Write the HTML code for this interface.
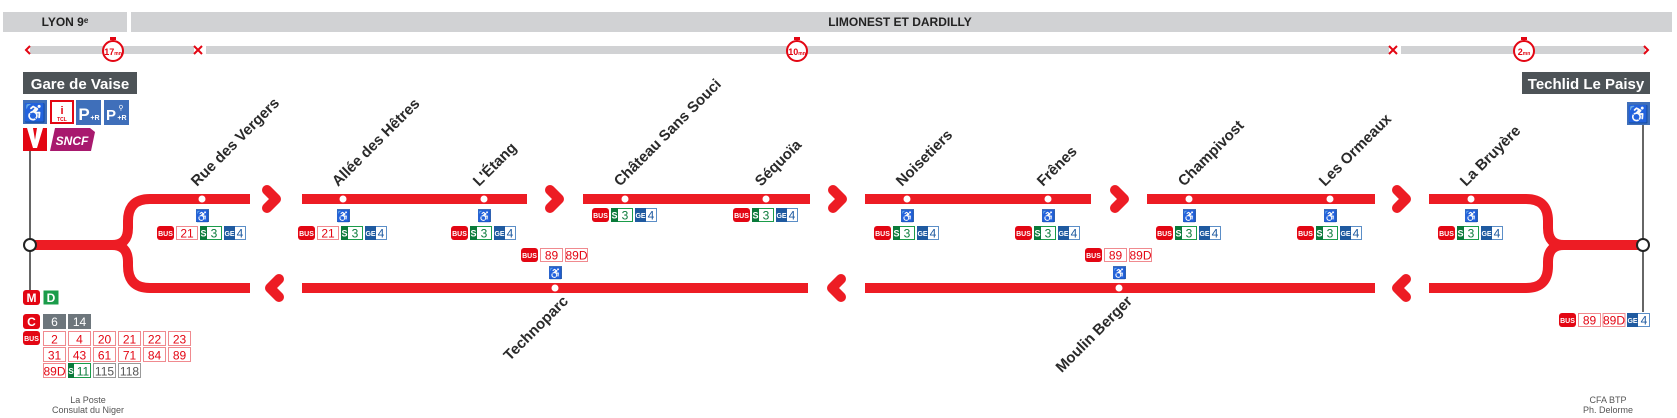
<!DOCTYPE html>
<html><head><meta charset="utf-8"><style>
html,body{margin:0;padding:0;background:#fff;}
svg{display:block;font-family:"Liberation Sans",sans-serif;}
.lbl{font-size:15px;font-weight:bold;fill:#2a2a2a;}
.rt{font-size:12px;fill:#e30613;text-anchor:middle;}
.bt{font-size:7px;fill:#fff;font-weight:bold;text-anchor:middle;}
</style></head><body>
<svg width="1677" height="418" viewBox="0 0 1677 418" xmlns="http://www.w3.org/2000/svg">
<rect x="3" y="12" width="124" height="20" fill="#d1d2d4"/>
<text x="65" y="26" font-size="12" font-weight="bold" fill="#222" text-anchor="middle">LYON 9ᵉ</text>
<rect x="131" y="12" width="1541" height="20" fill="#d1d2d4"/>
<text x="900" y="26" font-size="12" font-weight="bold" fill="#222" text-anchor="middle">LIMONEST ET DARDILLY</text>
<g fill="#d1d2d4"><rect x="30" y="46" width="164" height="8"/><rect x="206" y="46" width="1183" height="8"/><rect x="1401" y="46" width="244" height="8"/></g>
<g stroke="#e30613" stroke-width="2" fill="none">
<polyline points="30,46 26,50 30,54"/>
<path d="M194,46 L202,54 M202,46 L194,54"/>
<path d="M1389,46 L1397,54 M1397,46 L1389,54"/>
<polyline points="1644,46 1648,50 1644,54"/>
</g>
<g>
<circle cx="113" cy="51" r="10" fill="#fff" stroke="#e30613" stroke-width="2"/><rect x="110" y="37" width="6" height="3" fill="#e30613"/>
<text x="113" y="55" font-size="9" fill="#e30613" text-anchor="middle" font-weight="bold">17<tspan font-size="5">mn</tspan></text>
<circle cx="797" cy="51" r="10" fill="#fff" stroke="#e30613" stroke-width="2"/><rect x="794" y="37" width="6" height="3" fill="#e30613"/>
<text x="797" y="55" font-size="9" fill="#e30613" text-anchor="middle" font-weight="bold">10<tspan font-size="5">mn</tspan></text>
<circle cx="1524" cy="51" r="10" fill="#fff" stroke="#e30613" stroke-width="2"/><rect x="1521" y="37" width="6" height="3" fill="#e30613"/>
<text x="1524" y="55" font-size="9" fill="#e30613" text-anchor="middle" font-weight="bold">2<tspan font-size="5">mn</tspan></text>
</g>
<rect x="23" y="72" width="114" height="22" fill="#4d5357"/>
<text x="80" y="89" font-size="15" font-weight="bold" fill="#fff" text-anchor="middle">Gare de Vaise</text>
<rect x="1522" y="72" width="128" height="22" fill="#4d5357"/>
<text x="1586" y="89" font-size="15" font-weight="bold" fill="#fff" text-anchor="middle">Techlid Le Paisy</text>
<rect x="23" y="100" width="24" height="24" fill="#3f6fba"/><text x="35" y="119" font-size="18" fill="#fff" text-anchor="middle">♿</text>
<rect x="51" y="101" width="22" height="22" fill="#fff" stroke="#e30613" stroke-width="2"/><text x="62" y="114" font-size="11" fill="#e30613" font-weight="bold" text-anchor="middle">i</text><text x="62" y="121" font-size="5" fill="#e30613" font-weight="bold" text-anchor="middle">TCL</text>
<rect x="76" y="100" width="25" height="25" fill="#3f6fba"/><text x="84" y="120" font-size="17" fill="#fff" font-weight="bold" text-anchor="middle">P</text><text x="95" y="120" font-size="7" fill="#fff" font-weight="bold" text-anchor="middle">+R</text>
<rect x="104" y="100" width="25" height="25" fill="#3f6fba"/><text x="111" y="120" font-size="15" fill="#fff" font-weight="bold" text-anchor="middle">P</text><text x="122" y="120" font-size="7" fill="#fff" font-weight="bold" text-anchor="middle">+R</text><text x="121" y="110" font-size="7" fill="#fff" text-anchor="middle">⚲</text>
<rect x="23" y="128" width="24" height="23" fill="#e30613"/><polygon points="27,128 33,128 35,140 37,128 43,128 37,148 33,148" fill="#fff"/>
<polygon points="55,128 90,128 95,132 91,151 50,151" fill="#a8196e"/><text x="72" y="145" font-size="12" font-style="italic" font-weight="bold" fill="#fff" text-anchor="middle">SNCF</text>
<rect x="1627" y="102" width="23" height="23" fill="#3f6fba"/><text x="1638.5" y="120" font-size="17" fill="#fff" text-anchor="middle">♿</text>
<line x1="30" y1="151" x2="30" y2="290" stroke="#666" stroke-width="2"/>
<line x1="1643" y1="125" x2="1643" y2="312" stroke="#666" stroke-width="2"/>
<g stroke="#ed1c24" stroke-width="10" fill="none" stroke-linejoin="round">
<path d="M250,199 H150 Q128,199 128,221 V228 Q128,245 112,245 H30"/>
<path d="M250,288 H150 Q128,288 128,266 V262 Q128,245 112,245"/>
<path d="M302,199 H527 M583,199 H810 M865,199 H1091 M1147,199 H1375"/>
<path d="M302,288 H808 M865,288 H1375"/>
<path d="M1429,199 H1526 Q1548,199 1548,221 V228 Q1548,245 1564,245 H1643"/>
<path d="M1429,288 H1526 Q1548,288 1548,266 V262 Q1548,245 1564,245"/>
</g>
<g stroke="#ed1c24" stroke-width="10" fill="none" stroke-linecap="round" stroke-linejoin="round">
<polyline points="267,190 276,199 267,208"/><polyline points="550,190 559,199 550,208"/><polyline points="833,190 842,199 833,208"/><polyline points="1115,190 1124,199 1115,208"/><polyline points="1397,190 1406,199 1397,208"/>
<polyline points="279,279 270,288 279,297"/><polyline points="841,279 832,288 841,297"/><polyline points="1406,279 1397,288 1406,297"/>
</g>
<circle cx="30" cy="245" r="6" fill="#fff" stroke="#222" stroke-width="2"/>
<circle cx="1643" cy="245" r="6" fill="#fff" stroke="#222" stroke-width="2"/>
<g fill="#fff">
<circle cx="202" cy="199" r="3.5"/><circle cx="343" cy="199" r="3.5"/><circle cx="484" cy="199" r="3.5"/><circle cx="625" cy="199" r="3.5"/><circle cx="766" cy="199" r="3.5"/><circle cx="907" cy="199" r="3.5"/><circle cx="1048" cy="199" r="3.5"/><circle cx="1189" cy="199" r="3.5"/><circle cx="1330" cy="199" r="3.5"/><circle cx="1471" cy="199" r="3.5"/>
<circle cx="555" cy="288" r="3.5"/><circle cx="1119" cy="288" r="3.5"/>
</g>
<g class="lbl">
<text transform="translate(197,187) rotate(-45)">Rue des Vergers</text>
<text transform="translate(338,187) rotate(-45)">Allée des Hêtres</text>
<text transform="translate(479,187) rotate(-45)">L'Étang</text>
<text transform="translate(620,187) rotate(-45)">Château Sans Souci</text>
<text transform="translate(761,187) rotate(-45)">Séquoïa</text>
<text transform="translate(902,187) rotate(-45)">Noisetiers</text>
<text transform="translate(1043,187) rotate(-45)">Frênes</text>
<text transform="translate(1184,187) rotate(-45)">Champivost</text>
<text transform="translate(1325,187) rotate(-45)">Les Ormeaux</text>
<text transform="translate(1466,187) rotate(-45)">La Bruyère</text>
<text transform="translate(569,302) rotate(-45)" text-anchor="end">Technoparc</text>
<text transform="translate(1133,302) rotate(-45)" text-anchor="end">Moulin Berger</text>
</g>
<g>
<rect x="196" y="209" width="13" height="13" fill="#3f6fba"/><text x="202.5" y="220" font-size="11" fill="#fff" text-anchor="middle">♿</text>
<rect x="337" y="209" width="13" height="13" fill="#3f6fba"/><text x="343.5" y="220" font-size="11" fill="#fff" text-anchor="middle">♿</text>
<rect x="478" y="209" width="13" height="13" fill="#3f6fba"/><text x="484.5" y="220" font-size="11" fill="#fff" text-anchor="middle">♿</text>
<rect x="901" y="209" width="13" height="13" fill="#3f6fba"/><text x="907.5" y="220" font-size="11" fill="#fff" text-anchor="middle">♿</text>
<rect x="1042" y="209" width="13" height="13" fill="#3f6fba"/><text x="1048.5" y="220" font-size="11" fill="#fff" text-anchor="middle">♿</text>
<rect x="1183" y="209" width="13" height="13" fill="#3f6fba"/><text x="1189.5" y="220" font-size="11" fill="#fff" text-anchor="middle">♿</text>
<rect x="1324" y="209" width="13" height="13" fill="#3f6fba"/><text x="1330.5" y="220" font-size="11" fill="#fff" text-anchor="middle">♿</text>
<rect x="1465" y="209" width="13" height="13" fill="#3f6fba"/><text x="1471.5" y="220" font-size="11" fill="#fff" text-anchor="middle">♿</text>
<rect x="549" y="266" width="13" height="13" fill="#3f6fba"/><text x="555.5" y="277" font-size="11" fill="#fff" text-anchor="middle">♿</text>
<rect x="1113" y="266" width="13" height="13" fill="#3f6fba"/><text x="1119.5" y="277" font-size="11" fill="#fff" text-anchor="middle">♿</text>
</g>
<g transform="translate(157,226)">
<rect width="17" height="14" rx="3" fill="#e30613"/><text x="8.5" y="10" class="bt">BUS</text>
<rect x="19.5" y="0.5" width="21" height="13" fill="#fff" stroke="#f08a8f"/><text x="30" y="11.5" class="rt">21</text>
<rect x="43.5" y="0.5" width="21" height="13" fill="#fff" stroke="#1a9c4a"/><rect x="43" y="0" width="7" height="14" fill="#0a7a3a"/><text x="46.5" y="10.5" font-size="9" fill="#fff" text-anchor="middle" font-weight="bold">S</text><text x="57" y="11.5" font-size="12" fill="#0a7a3a" text-anchor="middle">3</text>
<rect x="67.5" y="0.5" width="21" height="13" fill="#fff" stroke="#5b8ec7"/><rect x="67" y="0" width="11" height="14" fill="#1f5aa0"/><text x="72.5" y="10" font-size="7" fill="#fff" text-anchor="middle" font-weight="bold">GE</text><text x="83" y="11.5" font-size="12" fill="#1f5aa0" text-anchor="middle">4</text>
</g>
<g transform="translate(298,226)">
<rect width="17" height="14" rx="3" fill="#e30613"/><text x="8.5" y="10" class="bt">BUS</text>
<rect x="19.5" y="0.5" width="21" height="13" fill="#fff" stroke="#f08a8f"/><text x="30" y="11.5" class="rt">21</text>
<rect x="43.5" y="0.5" width="21" height="13" fill="#fff" stroke="#1a9c4a"/><rect x="43" y="0" width="7" height="14" fill="#0a7a3a"/><text x="46.5" y="10.5" font-size="9" fill="#fff" text-anchor="middle" font-weight="bold">S</text><text x="57" y="11.5" font-size="12" fill="#0a7a3a" text-anchor="middle">3</text>
<rect x="67.5" y="0.5" width="21" height="13" fill="#fff" stroke="#5b8ec7"/><rect x="67" y="0" width="11" height="14" fill="#1f5aa0"/><text x="72.5" y="10" font-size="7" fill="#fff" text-anchor="middle" font-weight="bold">GE</text><text x="83" y="11.5" font-size="12" fill="#1f5aa0" text-anchor="middle">4</text>
</g>
<g transform="translate(451,226)">
<rect width="17" height="14" rx="3" fill="#e30613"/><text x="8.5" y="10" class="bt">BUS</text>
<rect x="19.5" y="0.5" width="21" height="13" fill="#fff" stroke="#1a9c4a"/><rect x="19" y="0" width="7" height="14" fill="#0a7a3a"/><text x="22.5" y="10.5" font-size="9" fill="#fff" text-anchor="middle" font-weight="bold">S</text><text x="33" y="11.5" font-size="12" fill="#0a7a3a" text-anchor="middle">3</text>
<rect x="43.5" y="0.5" width="21" height="13" fill="#fff" stroke="#5b8ec7"/><rect x="43" y="0" width="11" height="14" fill="#1f5aa0"/><text x="48.5" y="10" font-size="7" fill="#fff" text-anchor="middle" font-weight="bold">GE</text><text x="59" y="11.5" font-size="12" fill="#1f5aa0" text-anchor="middle">4</text>
</g>
<g transform="translate(592,208)">
<rect width="17" height="14" rx="3" fill="#e30613"/><text x="8.5" y="10" class="bt">BUS</text>
<rect x="19.5" y="0.5" width="21" height="13" fill="#fff" stroke="#1a9c4a"/><rect x="19" y="0" width="7" height="14" fill="#0a7a3a"/><text x="22.5" y="10.5" font-size="9" fill="#fff" text-anchor="middle" font-weight="bold">S</text><text x="33" y="11.5" font-size="12" fill="#0a7a3a" text-anchor="middle">3</text>
<rect x="43.5" y="0.5" width="21" height="13" fill="#fff" stroke="#5b8ec7"/><rect x="43" y="0" width="11" height="14" fill="#1f5aa0"/><text x="48.5" y="10" font-size="7" fill="#fff" text-anchor="middle" font-weight="bold">GE</text><text x="59" y="11.5" font-size="12" fill="#1f5aa0" text-anchor="middle">4</text>
</g>
<g transform="translate(733,208)">
<rect width="17" height="14" rx="3" fill="#e30613"/><text x="8.5" y="10" class="bt">BUS</text>
<rect x="19.5" y="0.5" width="21" height="13" fill="#fff" stroke="#1a9c4a"/><rect x="19" y="0" width="7" height="14" fill="#0a7a3a"/><text x="22.5" y="10.5" font-size="9" fill="#fff" text-anchor="middle" font-weight="bold">S</text><text x="33" y="11.5" font-size="12" fill="#0a7a3a" text-anchor="middle">3</text>
<rect x="43.5" y="0.5" width="21" height="13" fill="#fff" stroke="#5b8ec7"/><rect x="43" y="0" width="11" height="14" fill="#1f5aa0"/><text x="48.5" y="10" font-size="7" fill="#fff" text-anchor="middle" font-weight="bold">GE</text><text x="59" y="11.5" font-size="12" fill="#1f5aa0" text-anchor="middle">4</text>
</g>
<g transform="translate(874,226)">
<rect width="17" height="14" rx="3" fill="#e30613"/><text x="8.5" y="10" class="bt">BUS</text>
<rect x="19.5" y="0.5" width="21" height="13" fill="#fff" stroke="#1a9c4a"/><rect x="19" y="0" width="7" height="14" fill="#0a7a3a"/><text x="22.5" y="10.5" font-size="9" fill="#fff" text-anchor="middle" font-weight="bold">S</text><text x="33" y="11.5" font-size="12" fill="#0a7a3a" text-anchor="middle">3</text>
<rect x="43.5" y="0.5" width="21" height="13" fill="#fff" stroke="#5b8ec7"/><rect x="43" y="0" width="11" height="14" fill="#1f5aa0"/><text x="48.5" y="10" font-size="7" fill="#fff" text-anchor="middle" font-weight="bold">GE</text><text x="59" y="11.5" font-size="12" fill="#1f5aa0" text-anchor="middle">4</text>
</g>
<g transform="translate(1015,226)">
<rect width="17" height="14" rx="3" fill="#e30613"/><text x="8.5" y="10" class="bt">BUS</text>
<rect x="19.5" y="0.5" width="21" height="13" fill="#fff" stroke="#1a9c4a"/><rect x="19" y="0" width="7" height="14" fill="#0a7a3a"/><text x="22.5" y="10.5" font-size="9" fill="#fff" text-anchor="middle" font-weight="bold">S</text><text x="33" y="11.5" font-size="12" fill="#0a7a3a" text-anchor="middle">3</text>
<rect x="43.5" y="0.5" width="21" height="13" fill="#fff" stroke="#5b8ec7"/><rect x="43" y="0" width="11" height="14" fill="#1f5aa0"/><text x="48.5" y="10" font-size="7" fill="#fff" text-anchor="middle" font-weight="bold">GE</text><text x="59" y="11.5" font-size="12" fill="#1f5aa0" text-anchor="middle">4</text>
</g>
<g transform="translate(1156,226)">
<rect width="17" height="14" rx="3" fill="#e30613"/><text x="8.5" y="10" class="bt">BUS</text>
<rect x="19.5" y="0.5" width="21" height="13" fill="#fff" stroke="#1a9c4a"/><rect x="19" y="0" width="7" height="14" fill="#0a7a3a"/><text x="22.5" y="10.5" font-size="9" fill="#fff" text-anchor="middle" font-weight="bold">S</text><text x="33" y="11.5" font-size="12" fill="#0a7a3a" text-anchor="middle">3</text>
<rect x="43.5" y="0.5" width="21" height="13" fill="#fff" stroke="#5b8ec7"/><rect x="43" y="0" width="11" height="14" fill="#1f5aa0"/><text x="48.5" y="10" font-size="7" fill="#fff" text-anchor="middle" font-weight="bold">GE</text><text x="59" y="11.5" font-size="12" fill="#1f5aa0" text-anchor="middle">4</text>
</g>
<g transform="translate(1297,226)">
<rect width="17" height="14" rx="3" fill="#e30613"/><text x="8.5" y="10" class="bt">BUS</text>
<rect x="19.5" y="0.5" width="21" height="13" fill="#fff" stroke="#1a9c4a"/><rect x="19" y="0" width="7" height="14" fill="#0a7a3a"/><text x="22.5" y="10.5" font-size="9" fill="#fff" text-anchor="middle" font-weight="bold">S</text><text x="33" y="11.5" font-size="12" fill="#0a7a3a" text-anchor="middle">3</text>
<rect x="43.5" y="0.5" width="21" height="13" fill="#fff" stroke="#5b8ec7"/><rect x="43" y="0" width="11" height="14" fill="#1f5aa0"/><text x="48.5" y="10" font-size="7" fill="#fff" text-anchor="middle" font-weight="bold">GE</text><text x="59" y="11.5" font-size="12" fill="#1f5aa0" text-anchor="middle">4</text>
</g>
<g transform="translate(1438,226)">
<rect width="17" height="14" rx="3" fill="#e30613"/><text x="8.5" y="10" class="bt">BUS</text>
<rect x="19.5" y="0.5" width="21" height="13" fill="#fff" stroke="#1a9c4a"/><rect x="19" y="0" width="7" height="14" fill="#0a7a3a"/><text x="22.5" y="10.5" font-size="9" fill="#fff" text-anchor="middle" font-weight="bold">S</text><text x="33" y="11.5" font-size="12" fill="#0a7a3a" text-anchor="middle">3</text>
<rect x="43.5" y="0.5" width="21" height="13" fill="#fff" stroke="#5b8ec7"/><rect x="43" y="0" width="11" height="14" fill="#1f5aa0"/><text x="48.5" y="10" font-size="7" fill="#fff" text-anchor="middle" font-weight="bold">GE</text><text x="59" y="11.5" font-size="12" fill="#1f5aa0" text-anchor="middle">4</text>
</g>
<g transform="translate(521,248)">
<rect width="17" height="14" rx="3" fill="#e30613"/><text x="8.5" y="10" class="bt">BUS</text>
<rect x="19.5" y="0.5" width="22" height="13" fill="#fff" stroke="#f08a8f"/><text x="30.5" y="11.5" class="rt">89</text>
<rect x="44.5" y="0.5" width="22" height="13" fill="#fff" stroke="#f08a8f"/><text x="55.5" y="11.5" class="rt">89D</text>
</g>
<g transform="translate(1085,248)">
<rect width="17" height="14" rx="3" fill="#e30613"/><text x="8.5" y="10" class="bt">BUS</text>
<rect x="19.5" y="0.5" width="22" height="13" fill="#fff" stroke="#f08a8f"/><text x="30.5" y="11.5" class="rt">89</text>
<rect x="44.5" y="0.5" width="22" height="13" fill="#fff" stroke="#f08a8f"/><text x="55.5" y="11.5" class="rt">89D</text>
</g>
<g transform="translate(1559,313)">
<rect width="17" height="14" rx="3" fill="#e30613"/><text x="8.5" y="10" class="bt">BUS</text>
<rect x="19.5" y="0.5" width="22" height="13" fill="#fff" stroke="#f08a8f"/><text x="30.5" y="11.5" class="rt">89</text>
<rect x="44" y="0.5" width="22" height="13" fill="#fff" stroke="#f08a8f"/><text x="55" y="11.5" class="rt">89D</text>
<rect x="68.5" y="0.5" width="22" height="13" fill="#fff" stroke="#5b8ec7"/><rect x="68" y="0" width="11" height="14" fill="#1f5aa0"/><text x="73.5" y="10" font-size="7" fill="#fff" text-anchor="middle" font-weight="bold">GE</text><text x="85" y="11.5" font-size="12" fill="#1f5aa0" text-anchor="middle">4</text>
</g>
<g>
<rect x="23" y="290" width="17" height="15" rx="3" fill="#e30613"/><text x="31.5" y="302" font-size="12" font-weight="bold" fill="#fff" text-anchor="middle">M</text>
<rect x="43.5" y="290.5" width="15" height="14" fill="#1a9c4a"/><text x="51" y="302" font-size="12" font-weight="bold" fill="#fff" text-anchor="middle">D</text>
<rect x="23" y="314" width="17" height="15" rx="3" fill="#e30613"/><text x="31.5" y="326" font-size="12" font-weight="bold" fill="#fff" text-anchor="middle">C</text>
<rect x="43" y="314" width="23" height="15" fill="#6d767c"/><text x="54.5" y="326" font-size="12" fill="#fff" text-anchor="middle">6</text>
<rect x="68" y="314" width="23" height="15" fill="#6d767c"/><text x="79.5" y="326" font-size="12" fill="#fff" text-anchor="middle">14</text>
<rect x="23" y="331" width="17" height="14" rx="3" fill="#e30613"/><text x="31.5" y="341" class="bt">BUS</text>
<g fill="#fff" stroke="#f08a8f">
<rect x="43.5" y="331.5" width="22" height="14"/><rect x="68.5" y="331.5" width="22" height="14"/><rect x="93.5" y="331.5" width="22" height="14"/><rect x="118.5" y="331.5" width="22" height="14"/><rect x="143.5" y="331.5" width="22" height="14"/><rect x="168.5" y="331.5" width="22" height="14"/>
<rect x="43.5" y="347.5" width="22" height="14"/><rect x="68.5" y="347.5" width="22" height="14"/><rect x="93.5" y="347.5" width="22" height="14"/><rect x="118.5" y="347.5" width="22" height="14"/><rect x="143.5" y="347.5" width="22" height="14"/><rect x="168.5" y="347.5" width="22" height="14"/>
<rect x="43.5" y="363.5" width="22" height="14"/>
</g>
<g class="rt">
<text x="54.5" y="343.5">2</text><text x="79.5" y="343.5">4</text><text x="104.5" y="343.5">20</text><text x="129.5" y="343.5">21</text><text x="154.5" y="343.5">22</text><text x="179.5" y="343.5">23</text>
<text x="54.5" y="359.5">31</text><text x="79.5" y="359.5">43</text><text x="104.5" y="359.5">61</text><text x="129.5" y="359.5">71</text><text x="154.5" y="359.5">84</text><text x="179.5" y="359.5">89</text>
<text x="54.5" y="375.5">89D</text>
</g>
<rect x="68.5" y="363.5" width="22" height="14" fill="#fff" stroke="#1a9c4a"/><rect x="68" y="363" width="6" height="15" fill="#0a7a3a"/><text x="71" y="374" font-size="8" fill="#fff" text-anchor="middle" font-weight="bold">S</text><text x="83" y="375.5" font-size="12" fill="#0a7a3a" text-anchor="middle">11</text>
<rect x="93.5" y="363.5" width="22" height="14" fill="#fff" stroke="#999"/><text x="104.5" y="375.5" font-size="12" fill="#555" text-anchor="middle">115</text>
<rect x="118.5" y="363.5" width="22" height="14" fill="#fff" stroke="#999"/><text x="129.5" y="375.5" font-size="12" fill="#555" text-anchor="middle">118</text>
</g>
<g font-size="9" fill="#555" text-anchor="middle">
<text x="88" y="403">La Poste</text><text x="88" y="413">Consulat du Niger</text>
<text x="1608" y="403">CFA BTP</text><text x="1608" y="413">Ph. Delorme</text>
</g>
</svg>
</body></html>
